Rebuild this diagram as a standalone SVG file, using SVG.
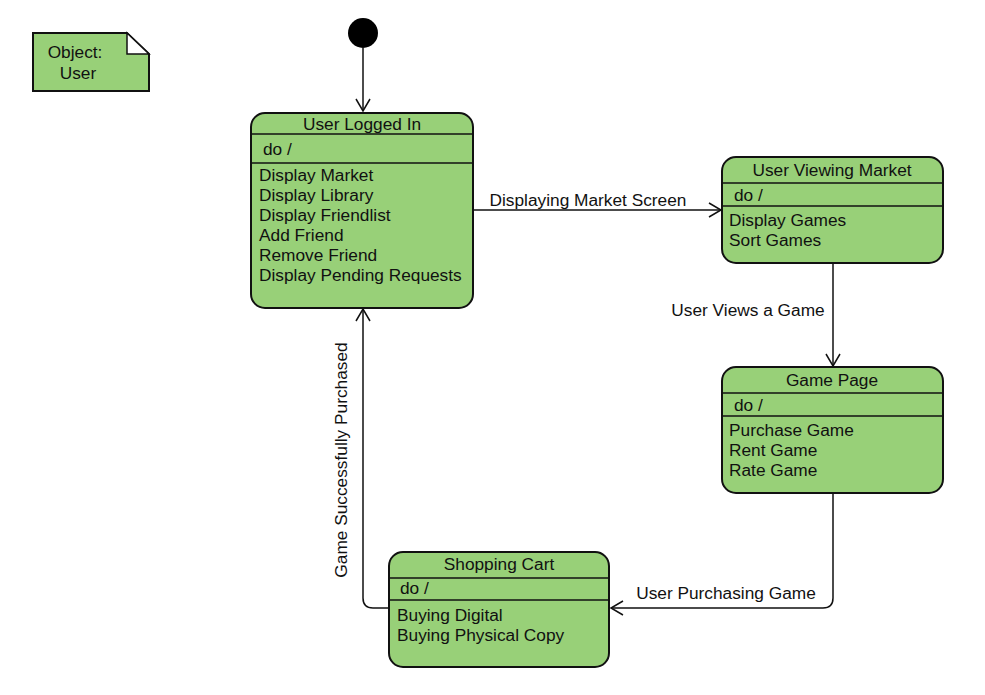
<svg xmlns="http://www.w3.org/2000/svg" width="985" height="695" viewBox="0 0 985 695">
  <style>
    text { font-family: "Liberation Sans", Arial, sans-serif; font-size: 17.3px; fill: #111; }
    .state { fill: #98d078; stroke: #111; stroke-width: 2; }
    .div { stroke: #111; stroke-width: 1.5; }
    .mid { text-anchor: middle; }
    .edge { fill: none; stroke: #111; stroke-width: 1.5; }
  </style>
  <defs>
    <marker id="open" markerWidth="16" markerHeight="16" refX="13" refY="8" orient="auto" markerUnits="userSpaceOnUse">
      <path d="M1,1 L13,8 L1,15" fill="none" stroke="#111" stroke-width="1.5"/>
    </marker>
  </defs>
  <rect width="985" height="695" fill="#fff"/>

  <!-- note -->
  <g id="note">
    <path d="M33,33 H127 L149,54 V91 H33 Z" fill="#98d078" stroke="#111" stroke-width="2"/>
    <path d="M127,33 L149,54 H127 Z" fill="#fff" stroke="#111" stroke-width="1.5"/>
    <text x="75" y="58" class="mid">Object:</text>
    <text x="78" y="79" class="mid">User</text>
  </g>

  <!-- initial pseudo-state -->
  <g id="initial">
    <circle cx="363" cy="33" r="15" fill="#000"/>
  </g>

  <g id="user-logged-in">
    <rect class="state" x="251" y="113" width="222" height="195" rx="14"/>
    <line class="div" x1="251" y1="134" x2="473" y2="134"/>
    <line class="div" x1="251" y1="163" x2="473" y2="163"/>
    <text x="362" y="130" class="mid">User Logged In</text>
    <text x="263" y="155">do /</text>
    <text x="259" y="181">Display Market</text>
    <text x="259" y="201">Display Library</text>
    <text x="259" y="221">Display Friendlist</text>
    <text x="259" y="241">Add Friend</text>
    <text x="259" y="261">Remove Friend</text>
    <text x="259" y="281">Display Pending Requests</text>
  </g>

  <g id="user-viewing-market">
    <rect class="state" x="722" y="157" width="221" height="106" rx="14"/>
    <line class="div" x1="722" y1="183" x2="943" y2="183"/>
    <line class="div" x1="722" y1="206" x2="943" y2="206"/>
    <text x="832" y="176" class="mid">User Viewing Market</text>
    <text x="734" y="201">do /</text>
    <text x="729" y="226">Display Games</text>
    <text x="729" y="246">Sort Games</text>
  </g>

  <g id="game-page">
    <rect class="state" x="722" y="367" width="221" height="126" rx="14"/>
    <line class="div" x1="722" y1="393" x2="943" y2="393"/>
    <line class="div" x1="722" y1="416" x2="943" y2="416"/>
    <text x="832" y="386" class="mid">Game Page</text>
    <text x="734" y="411">do /</text>
    <text x="729" y="436">Purchase Game</text>
    <text x="729" y="456">Rent Game</text>
    <text x="729" y="476">Rate Game</text>
  </g>

  <g id="shopping-cart">
    <rect class="state" x="389" y="552" width="220" height="115" rx="14"/>
    <line class="div" x1="389" y1="578" x2="609" y2="578"/>
    <line class="div" x1="389" y1="600" x2="609" y2="600"/>
    <text x="499" y="570" class="mid">Shopping Cart</text>
    <text x="400" y="594">do /</text>
    <text x="397" y="621">Buying Digital</text>
    <text x="397" y="641">Buying Physical Copy</text>
  </g>

  <g id="connectors">
    <path class="edge" d="M363,48 V111" marker-end="url(#open)"/>
    <path class="edge" d="M473,210 H721" marker-end="url(#open)"/>
    <text x="588" y="206" class="mid">Displaying Market Screen</text>
    <path class="edge" d="M833,263 V366" marker-end="url(#open)"/>
    <text x="748" y="316" class="mid">User Views a Game</text>
    <path class="edge" d="M833,493 V598 Q833,608 823,608 H611" marker-end="url(#open)"/>
    <text x="726" y="599" class="mid">User Purchasing Game</text>
    <path class="edge" d="M389,608 H373 Q363,608 363,598 V309" marker-end="url(#open)"/>
    <text x="0" y="0" class="mid" transform="translate(347,460) rotate(-90)">Game Successfully Purchased</text>
  </g>
</svg>
